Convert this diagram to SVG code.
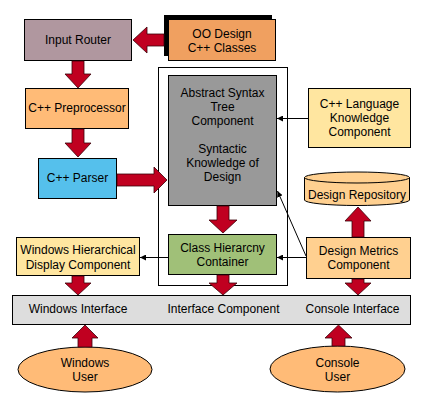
<svg xmlns="http://www.w3.org/2000/svg" width="424" height="405" viewBox="0 0 424 405">
<defs>
<style>
text{font-family:"Liberation Sans",Arial,sans-serif;font-size:12px;fill:#000;text-anchor:middle}
.box{stroke:#000;stroke-width:1}
.big{fill:#c00020;stroke:#3a0008;stroke-width:0.8}
.thin{stroke:#000;stroke-width:1;fill:none;marker-end:url(#ah)}
</style>
<marker id="ah" viewBox="0 0 6 6" refX="6" refY="3" markerWidth="6" markerHeight="6" markerUnits="userSpaceOnUse" orient="auto">
<path d="M0,0 L6,3 L0,6 Z" fill="#000"/>
</marker>
</defs>
<rect width="424" height="405" fill="#fff"/>

<g id="container"><rect class="box" x="158.5" y="67.5" width="129" height="218" fill="#fff"/></g>

<g id="input-router"><rect class="box" x="24.5" y="19.5" width="107" height="41" fill="#b0979f"/><text x="78" y="44">Input Router</text></g>

<g id="oo-design"><rect x="164" y="15" width="108" height="41" fill="#000"/><rect class="box" x="168.5" y="19.5" width="107" height="41" fill="#f0a060"/><text x="222" y="37.5">OO Design</text><text x="222" y="51.5">C++ Classes</text></g>

<g id="preprocessor"><rect class="box" x="25.5" y="88.5" width="103" height="40" fill="#ffbb77"/><text x="77" y="112">C++ Preprocessor</text></g>

<g id="parser"><rect class="box" x="38.5" y="158.5" width="78" height="40" fill="#55c0ec"/><text x="77.5" y="182">C++ Parser</text></g>

<g id="ast"><rect class="box" x="168.5" y="75.5" width="108" height="130" fill="#999999"/>
<text x="222.5" y="97">Abstract Syntax</text><text x="222.5" y="111">Tree</text><text x="222.5" y="125">Component</text>
<text x="222.5" y="153">Syntactic</text><text x="222.5" y="167">Knowledge of</text><text x="222.5" y="181">Design</text></g>

<g id="class-hierarchy"><rect class="box" x="168.5" y="234.5" width="108" height="40" fill="#a0c078"/><text x="222.5" y="252">Class Hierarcny</text><text x="222.5" y="266">Container</text></g>

<g id="display"><rect class="box" x="16.5" y="237.5" width="123" height="38" fill="#ffe6a0"/><text x="78" y="254">Windows Hierarchical</text><text x="78" y="269">Display Component</text></g>

<g id="language"><rect class="box" x="308.5" y="88.5" width="102" height="59" fill="#ffe6a0"/><text x="359.5" y="108">C++ Language</text><text x="359.5" y="122">Knowledge</text><text x="359.5" y="136">Component</text></g>

<g id="repository"><path class="box" d="M304.5,177.5 L304.5,200 A52.5,5.5 0 0 0 409.5,200 L409.5,177.5 Z" fill="#ffd090"/><ellipse class="box" cx="357" cy="177.5" rx="52.5" ry="5.5" fill="#ffd090"/><text x="357" y="199">Design Repository</text></g>

<g id="metrics"><rect class="box" x="306.5" y="237.5" width="104" height="41" fill="#ffd090"/><text x="358.5" y="255">Design Metrics</text><text x="358.5" y="269">Component</text></g>

<g id="interface"><rect class="box" x="12.5" y="295.5" width="398" height="29" fill="#dddddd"/><text x="78" y="313">Windows Interface</text><text x="223.5" y="313">Interface Component</text><text x="352.5" y="313">Console Interface</text></g>

<g id="windows-user"><ellipse class="box" cx="85" cy="369.5" rx="67" ry="22.5" fill="#ffbb77"/><text x="85" y="367">Windows</text><text x="85" y="381">User</text></g>

<g id="console-user"><ellipse class="box" cx="337.5" cy="369" rx="67.5" ry="23" fill="#ffbb77"/><text x="337.5" y="367">Console</text><text x="337.5" y="381">User</text></g>

<g id="connectors">
<polygon class="big" points="164,34 147,34 147,27 133,40 147,53 147,46 164,46"/>
<polygon class="big" points="72,61 84,61 84,74 91,74 78,88 65,74 72,74"/>
<polygon class="big" points="72,129 84,129 84,143 91,143 78,157 65,143 72,143"/>
<polygon class="big" points="117,174 154,174 154,167 167,180 154,193 154,186 117,186"/>
<polygon class="big" points="217,206 229,206 229,220 237,220 223,233 209,220 217,220"/>
<polygon class="big" points="217,275 229,275 229,283 237,283 223,295 209,283 217,283"/>
<polygon class="big" points="72,276 84,276 84,283 91,283 78,295 65,283 72,283"/>
<polygon class="big" points="352,237 364,237 364,221 371,221 358,207 345,221 352,221"/>
<polygon class="big" points="352,279 364,279 364,283 371,283 358,295 345,283 352,283"/>
<polygon class="big" points="78,347 92,347 92,338 98,338 85,325 72,338 78,338"/>
<polygon class="big" points="332,346 345,346 345,338 352,338 338.5,325 325,338 332,338"/>
<line class="thin" x1="308" y1="118.5" x2="277" y2="118.5"/>
<line class="thin" x1="306" y1="257.5" x2="277" y2="257.5"/>
<line class="thin" x1="306" y1="256" x2="277.5" y2="191"/>
<line class="thin" x1="168" y1="257.5" x2="140" y2="257.5"/>
</g>
</svg>
